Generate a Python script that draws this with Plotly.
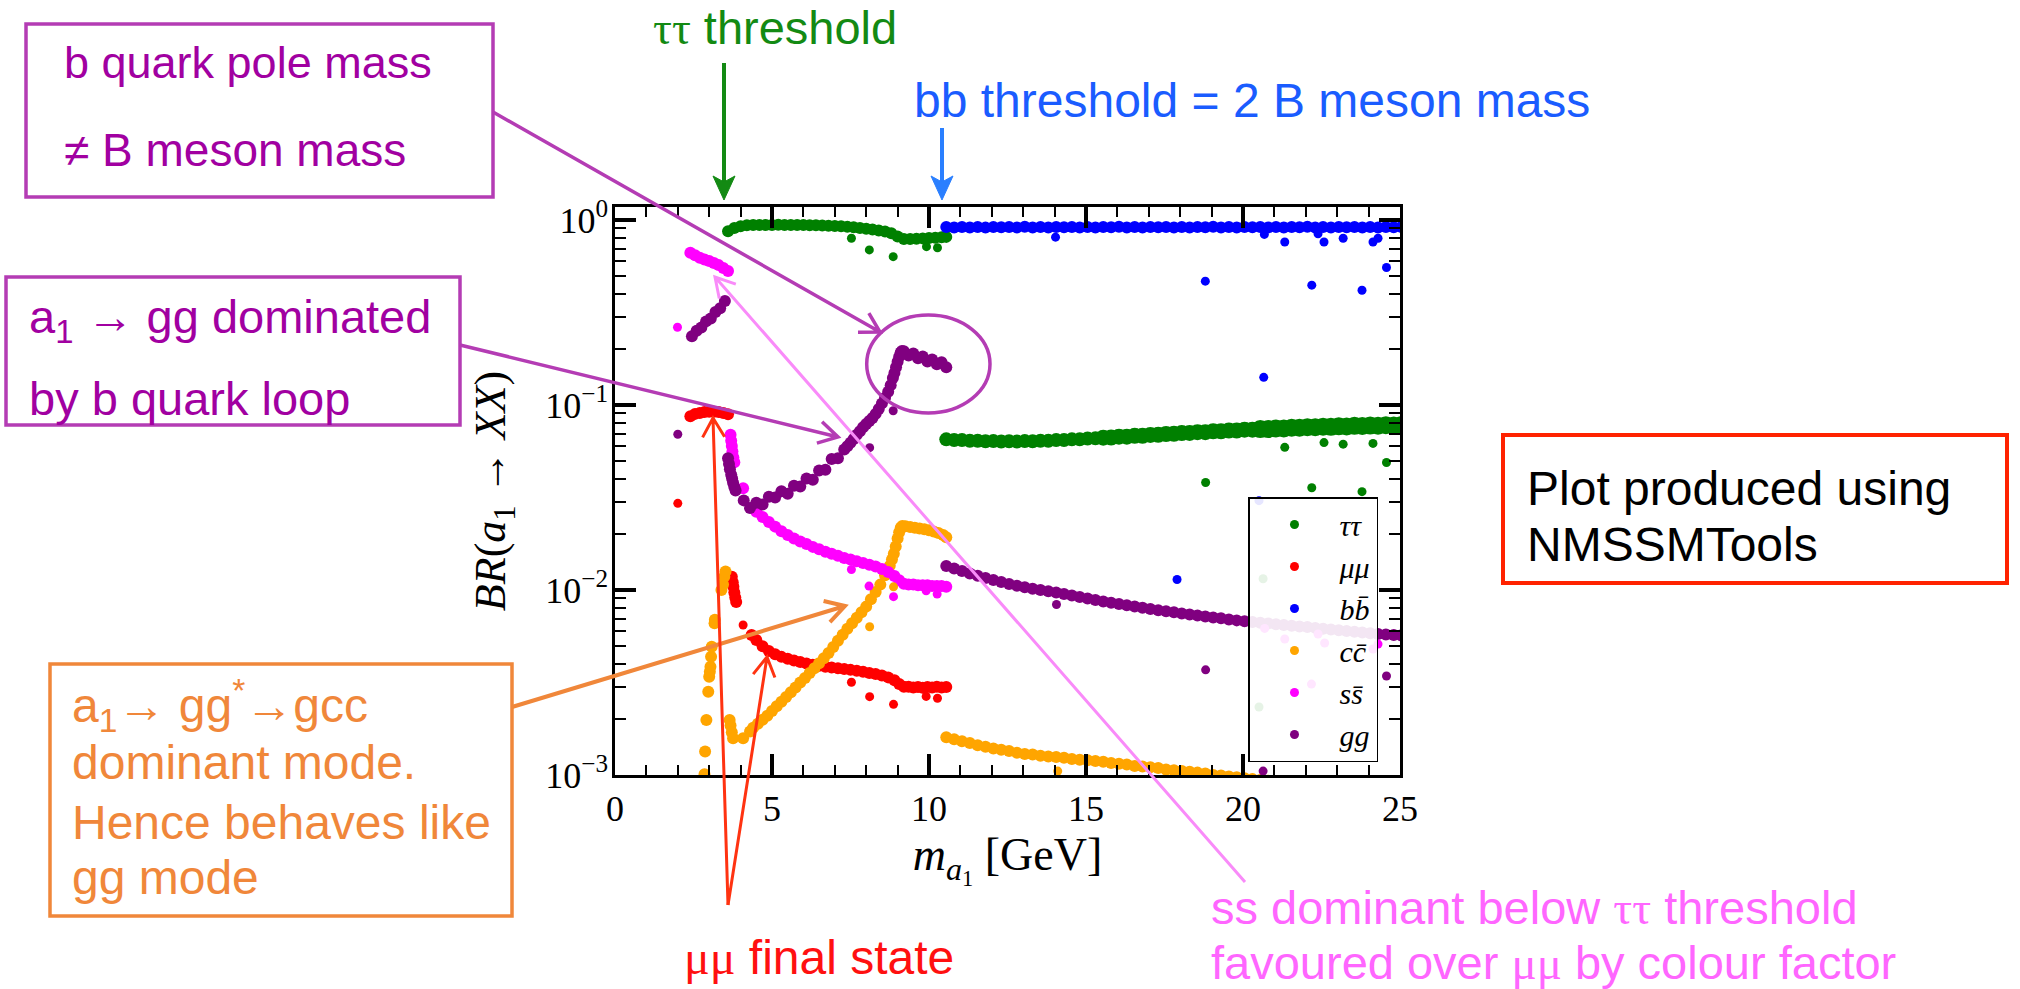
import math
import plotly.graph_objects as go

# ------------------------------------------------------------------
# NMSSM: branching ratios of the light pseudoscalar a1 versus its mass
# ------------------------------------------------------------------

# Scan points above the bb threshold (one mass list shared by the channels)
MA_HIGH = [10.55, 10.8, 11.05, 11.3, 11.55, 11.8, 12.05, 12.3, 12.55, 12.8,
           13.05, 13.3, 13.55, 13.8, 14.05, 14.3, 14.55, 14.8, 15.05, 15.3,
           15.55, 15.8, 16.05, 16.3, 16.55, 16.8, 17.05, 17.3, 17.55, 17.8,
           18.05, 18.3, 18.55, 18.8, 19.05, 19.3, 19.55, 19.8, 20.05, 20.3,
           20.55, 20.8, 21.05, 21.3, 21.55, 21.8, 22.05, 22.3, 22.55, 22.8,
           23.05, 23.3, 23.55, 23.8, 24.05, 24.3, 24.55, 24.8, 25.05]
BR_TAUTAU_HIGH = [.0652, .0647, .0646, .0641, .0641, .0637, .0638, .0635, .0637, .0634,
                  .0638, .0636, .0641, .0640, .0646, .0646, .0652, .0652, .0659, .0660,
                  .0666, .0667, .0674, .0674, .0681, .0682, .0689, .0690, .0697, .0698,
                  .0705, .0706, .0713, .0713, .0721, .0721, .0728, .0728, .0735, .0735,
                  .0741, .0741, .0747, .0747, .0753, .0753, .0758, .0758, .0763, .0762,
                  .0767, .0766, .0771, .0770, .0774, .0773, .0777, .0775, .0779]
BR_BB_HIGH = [.916, .910, .917, .911, .915, .909, .917, .912, .916, .910,
              .918, .911, .916, .910, .917, .912, .915, .910, .917, .911,
              .916, .912, .918, .910, .916, .911, .917, .912, .915, .910,
              .917, .911, .916, .912, .918, .910, .916, .911, .917, .912,
              .915, .910, .917, .911, .916, .912, .918, .910, .916, .911,
              .917, .912, .915, .910, .917, .911, .916, .912, .917]
BR_GG_HIGH = [.01349, .01306, .01265, .01227, .01194, .01161, .01132, .01104, .01076, .01054,
              .01035, .01016, .01000, .00984, .00968, .00951, .00933, .00916, .00899, .00883,
              .00867, .00853, .00839, .00828, .00815, .00802, .00789, .00778, .00767, .00757,
              .00746, .00738, .00728, .00719, .00711, .00703, .00693, .00685, .00678, .00671,
              .00665, .00659, .00653, .00647, .00641, .00635, .00630, .00624, .00618, .00612,
              .00605, .00600, .00594, .00589, .00583, .00579, .00575, .00571, .00568]
BR_CC_HIGH = [.00160, .00156, .00152, .00149, .00145, .00142, .00139, .00137, .00135, .00132,
              .00130, .00129, .00127, .00126, .00125, .00124, .00122, .00121, .00120, .00119,
              .00118, .00116, .00115, .00114, .00112, .00111, .00110, .00109, .00107, .00106,
              .00105, .00104, .00103, .00102, .00100, .000993, .000982, .000971, .000961, .000950,
              .000940, .000930, .000920, .000910, .000900, .000890, .000880, .000870, .000860, .000860,
              .000850, .000840, .000840, .000830, .000820, .000820, .000810, .000810, .000800]

# Scan points below the bb threshold, per channel
MA_TAUTAU_LOW = [3.6, 3.8, 4.0, 4.2, 4.4, 4.6, 4.8, 5.0, 5.2, 5.4,
                 5.6, 5.8, 6.0, 6.2, 6.4, 6.6, 6.8, 7.0, 7.2, 7.4,
                 7.6, 7.8, 8.0, 8.2, 8.4, 8.6, 8.8, 9.0, 9.2, 9.4,
                 9.6, 9.8, 10.0, 10.2, 10.4, 10.55]
BR_TAUTAU_LOW = [.870, .905, .925, .935, .938, .940, .940, .940, .941, .940,
                 .940, .939, .938, .937, .936, .934, .931, .928, .924, .919,
                 .912, .905, .897, .888, .878, .865, .848, .815, .790, .790,
                 .792, .795, .798, .802, .806, .810]

MA_MUMU_LOW = [2.4, 2.55, 2.7, 2.85, 3.0, 3.15, 3.3, 3.45, 3.6,
               3.72, 3.75, 3.77, 3.80, 3.83, 3.86,
               4.35, 4.5, 4.7, 4.9, 5.1, 5.3, 5.5, 5.7, 5.9, 6.1,
               6.3, 6.5, 6.7, 6.9, 7.1, 7.3, 7.5, 7.7, 7.9, 8.1,
               8.3, 8.5, 8.7, 8.9, 9.05, 9.2, 9.35, 9.5, 9.65, 9.8,
               9.95, 10.1, 10.25, 10.4, 10.55]
BR_MUMU_LOW = [.0870, .0895, .0905, .0915, .0920, .0920, .0915, .0905, .0890,
               .0118, .0110, .0104, .0097, .0091, .0086,
               .00571, .00537, .00497, .00468, .00449, .00435, .00425, .00416, .00408, .00400,
               .00394, .00389, .00385, .00381, .00378, .00374, .00370, .00366, .00361, .00356,
               .00351, .00345, .00337, .00325, .00310, .00300, .00300, .00297, .00299, .00296,
               .00299, .00297, .00300, .00297, .00299]

MA_CC_LOW = [2.85, 2.87, 2.91, 2.97, 3.00, 3.02, 3.04, 3.06, 3.08, 3.17, 3.18,
             3.39, 3.44, 3.48, 3.52,
             3.65, 3.68, 3.72, 3.76, 4.08, 4.3,
             4.4, 4.55, 4.7, 4.85, 5.0, 5.15, 5.3, 5.45, 5.6, 5.75,
             5.9, 6.05, 6.2, 6.35, 6.5, 6.65, 6.8, 6.95, 7.1, 7.25,
             7.4, 7.55, 7.7, 7.85, 8.0, 8.15, 8.3, 8.45, 8.6,
             8.68, 8.75, 8.82, 8.88, 8.94, 9.0, 9.05, 9.1, 9.15,
             9.25, 9.4, 9.55, 9.7, 9.85, 10.0, 10.15, 10.3, 10.45, 10.55]
BR_CC_LOW = [.00101, .00134, .00198, .00282, .00340, .00362, .00385, .00436, .00494, .0066, .0069,
             .0100, .0107, .0118, .0126,
             .00198, .00185, .00170, .00158, .00158, .00172,
             .00180, .00189, .00199, .00209, .00222, .00235, .00249, .00264, .00280, .00297,
             .00316, .00334, .00356, .00378, .00402, .00428, .00457, .00492, .00531, .00573,
             .00617, .00661, .00708, .00759, .00813, .00891, .00975, .01069, .01200,
             .0126, .0135, .0146, .0157, .0172, .0190, .0205, .0217, .0222,
             .0221, .0219, .0217, .0215, .0213, .0210, .0207, .0203, .0198, .0193]

MA_SS_LOW = [2.4, 2.55, 2.7, 2.85, 3.0, 3.15, 3.3, 3.45, 3.6,
             3.68, 3.70, 3.72, 3.74, 3.77, 3.80, 4.08,
             4.5, 4.7, 4.9, 5.1, 5.3, 5.5, 5.7, 5.9, 6.1, 6.3,
             6.5, 6.7, 6.9, 7.1, 7.3, 7.5, 7.7, 7.9, 8.1, 8.3,
             8.5, 8.7, 8.9, 9.05, 9.2, 9.35, 9.5, 9.65, 9.8, 9.95,
             10.1, 10.25, 10.4, 10.55]
BR_SS_LOW = [.665, .645, .625, .612, .600, .585, .570, .550, .530,
             .069, .064, .060, .056, .052, .049, .0355,
             .0265, .0248, .0233, .0220, .0208, .0198, .0190, .0183, .0177, .0171,
             .0166, .0161, .0157, .0153, .0149, .0146, .0143, .0140, .0137, .0134,
             .0130, .0125, .0119, .0113, .0108, .0107, .0107, .0106, .0106, .0106,
             .0105, .0105, .0105, .0104]

MA_GG_LOW = [2.45, 2.6, 2.75, 2.9, 3.05, 3.2, 3.35, 3.5,
             3.6, 3.63, 3.66, 3.7, 3.73, 3.76, 3.8, 3.84,
             4.1, 4.3, 4.5, 4.7, 4.9, 5.1, 5.3, 5.5, 5.7, 5.9,
             6.1, 6.3, 6.5, 6.7, 6.9, 7.1,
             7.3, 7.4, 7.5, 7.6, 7.7, 7.8, 7.9, 8.0, 8.1, 8.2,
             8.3, 8.4, 8.5, 8.6, 8.7,
             8.78, 8.85, 8.9, 8.95, 9.0, 9.05, 9.1, 9.14,
             9.2, 9.35, 9.5, 9.65, 9.8, 9.95, 10.1, 10.25, 10.4, 10.55]
BR_GG_LOW = [.235, .252, .262, .283, .293, .318, .333, .365,
             .0515, .048, .045, .042, .040, .038, .036, .0345,
             .0305, .0277, .0296, .0290, .0319, .0316, .0342, .0331, .0366, .0362,
             .0400, .0394, .0443, .0447, .0510, .0515,
             .0575, .0598, .0625, .0655, .0690, .0722, .0758, .0790, .0818, .0850,
             .0895, .0950, .1020, .1095, .1180,
             .128, .140, .149, .160, .171, .182, .192, .196,
             .195, .185, .190, .179, .183, .172, .176, .166, .170, .160]

# Isolated scan points away from the main bands
MA_TAUTAU_OFF = [7.53, 8.1, 8.86, 9.92, 10.27, 18.81, 20.51, 20.64, 21.33, 22.19,
                 22.58, 23.19, 23.79, 24.14, 24.57]
BR_TAUTAU_OFF = [.796, .689, .633, .717, .708, .0381, .00233, .0115, .059, .0357,
                 .0626, .0614, .034, .062, .0489]
MA_MUMU_OFF = [2.0, 4.08, 7.53, 8.11, 8.87, 9.91, 10.27]
BR_MUMU_OFF = [.0294, .00647, .00317, .00265, .00241, .00266, .0026]
MA_BB_OFF = [14.03, 17.9, 18.8, 20.51, 20.66, 20.68, 21.33, 22.19, 22.39, 22.58,
             23.19, 23.79, 24.14, 24.3, 24.57]
BR_BB_OFF = [.807, .0114, .467, .0304, .141, .835, .76, .444, .842, .76,
             .796, .417, .76, .796, .553]
MA_CC_OFF = [8.11, 8.87, 14.1]
BR_CC_OFF = [.00633, .0104, .00105]
MA_SS_OFF = [1.99, 7.53, 8.09, 8.87, 9.91, 10.26, 20.69, 21.33, 22.18, 22.39, 22.6, 24.14, 24.3]
BR_SS_OFF = [.263, .0129, .0105, .0092, .0099, .0095, .0062, .00543, .0031, .00578, .00517, .0048, .0051]
MA_GG_OFF = [2.0, 8.11, 8.86, 14.06, 18.81, 20.64, 24.57]
BR_GG_OFF = [.0695, .0588, .093, .00835, .0037, .00105, .00343]

# Axis ticks
X_TICK_VALS = [0, 5, 10, 15, 20, 25]
Y_TICK_VALS = [0.001, 0.01, 0.1, 1]
Y_TICK_TEXT = ["10<sup>\u22123</sup>", "10<sup>\u22122</sup>", "10<sup>\u22121</sup>", "10<sup>0</sup>"]
Y_MINOR_VALS = [m * 10.0 ** e for e in (-3, -2, -1) for m in range(2, 10)]

SERIF = "Liberation Serif"
SANS = "Liberation Sans"

# ------------------------------------------------------------------
fig = go.Figure()

# the tau band above the bb threshold widens with mass: drawn in three pieces
BANDS = [
    ("green", MA_TAUTAU_LOW, BR_TAUTAU_LOW, 12),
    ("green", MA_HIGH[:21], BR_TAUTAU_HIGH[:21], 14),
    ("green", MA_HIGH[20:41], BR_TAUTAU_HIGH[20:41], 16),
    ("green", MA_HIGH[40:], BR_TAUTAU_HIGH[40:], 18),
    ("red", MA_MUMU_LOW, BR_MUMU_LOW, 12),
    ("blue", MA_HIGH, BR_BB_HIGH, 12),
    ("orange", MA_CC_LOW + MA_HIGH, BR_CC_LOW + BR_CC_HIGH, 12),
    ("magenta", MA_SS_LOW, BR_SS_LOW, 12),
    ("purple", MA_GG_LOW + MA_HIGH, BR_GG_LOW + BR_GG_HIGH, 12),
]
GROUP = {"green": "tt", "red": "mm", "blue": "bb", "orange": "cc", "magenta": "ss", "purple": "gg"}
for color, xs, ys, size in BANDS:
    fig.add_trace(go.Scatter(x=xs, y=ys, mode="markers", showlegend=False,
                             legendgroup=GROUP[color],
                             marker=dict(color=color, size=size, line=dict(width=0))))

BAR = "\u0304"  # combining macron for the antiparticle bar
SCATTER = [
    ("<i>\u03c4\u03c4</i>", "green", MA_TAUTAU_OFF, BR_TAUTAU_OFF),
    ("<i>\u03bc\u03bc</i>", "red", MA_MUMU_OFF, BR_MUMU_OFF),
    ("<i>bb" + BAR + "</i>", "blue", MA_BB_OFF, BR_BB_OFF),
    ("<i>cc" + BAR + "</i>", "orange", MA_CC_OFF, BR_CC_OFF),
    ("<i>ss" + BAR + "</i>", "magenta", MA_SS_OFF, BR_SS_OFF),
    ("<i>gg</i>", "purple", MA_GG_OFF, BR_GG_OFF),
]
for name, color, xs, ys in SCATTER:
    fig.add_trace(go.Scatter(x=xs, y=ys, mode="markers", name=name,
                             legendgroup=GROUP[color],
                             marker=dict(color=color, size=9, line=dict(width=0))))

# ------------------------------------------------------------------
W, H = 2020, 989
L, R, T, B = 615, 1400, 207, 775
PW, PH = R - L, B - T


def px(x):
    return (x - L) / PW


def py(y):
    return (B - y) / PH


axis_common = dict(
    showline=True, linecolor="black", linewidth=2.5, mirror="ticks",
    ticks="inside", ticklen=21, tickwidth=4, tickcolor="black",
    showgrid=False, zeroline=False,
    tickfont=dict(family=SERIF, size=36, color="black"),
)

fig.update_layout(
    width=W, height=H, autosize=False,
    margin=dict(l=L, r=W - R, t=T, b=H - B, autoexpand=False),
    paper_bgcolor="white", plot_bgcolor="white",
    xaxis=dict(range=[0, 25], tickvals=X_TICK_VALS, ticklabelstandoff=0,
               minor=dict(dtick=1, ticks="inside", ticklen=10, tickwidth=2, tickcolor="black", showgrid=False),
               title=dict(text="<i>m</i><sub><i>a</i><sub>1</sub></sub> [GeV]",
                          font=dict(family=SERIF, size=46, color="black"), standoff=9),
               **axis_common),
    yaxis=dict(type="log", range=[-3, 0.07], tickvals=Y_TICK_VALS, ticktext=Y_TICK_TEXT,
               ticklabelstandoff=-3,
               minor=dict(tickvals=Y_MINOR_VALS, ticks="inside", ticklen=11, tickwidth=2, tickcolor="black", showgrid=False),
               title=dict(text="<i>BR</i>(<i>a</i><sub>1</sub> \u2192 <i>XX</i>)",
                          font=dict(family=SERIF, size=44, color="black"), standoff=26),
               **axis_common),
    legend=dict(x=px(1248), y=py(497), xanchor="left", yanchor="top",
                bgcolor="rgba(255,255,255,0.9)", bordercolor="black", borderwidth=1.5,
                font=dict(family=SERIF, size=30, color="black"),
                itemwidth=80, traceorder="normal", tracegroupgap=0),
)

# ------------------------------------------------------------------
# Callouts
PURPLE_TXT, PURPLE_LN = "#A100A1", "#B43CB4"
ORANGE = "#F0873A"
GREEN_TXT = "#138A13"
BLUE_TXT, BLUE_LN = "#1A5CFF", "#2A7FFF"
RED_TXT, RED_LN = "#FF1010", "#FF3311"
PINK_TXT, PINK_LN = "#FF66FF", "#F98BF9"
TAU = "<span style='font-family:Liberation Serif'>\u03c4\u03c4</span>"
MU = "<span style='font-family:Liberation Serif'>\u03bc\u03bc</span>"


def label(text, x, y, color, size=48):
    fig.add_annotation(text=text, x=px(x), y=py(y), xref="paper", yref="paper",
                       xanchor="left", yanchor="middle", showarrow=False,
                       font=dict(family=SANS, size=size, color=color))


def box(x0, y0, x1, y1, color, width=3.5):
    fig.add_shape(type="rect", xref="paper", yref="paper",
                  x0=px(x0), x1=px(x1), y0=py(y1), y1=py(y0),
                  line=dict(color=color, width=width), fillcolor="rgba(0,0,0,0)", layer="above")


def pt(x, y):
    return f"{px(x):.5f},{py(y):.5f}"


def open_arrow(x0, y0, x1, y1, color, width=3.5, arm=22, half=30):
    back = math.atan2(y0 - y1, x0 - x1)
    a = math.radians(half)
    e1 = (x1 + arm * math.cos(back + a), y1 + arm * math.sin(back + a))
    e2 = (x1 + arm * math.cos(back - a), y1 + arm * math.sin(back - a))
    path = (f"M{pt(x0, y0)} L{pt(x1, y1)} M{pt(*e1)} L{pt(x1, y1)} L{pt(*e2)}")
    fig.add_shape(type="path", path=path, xref="paper", yref="paper",
                  line=dict(color=color, width=width), layer="above")


def down_arrow(x, y0, y1, color, width=4, head_len=24, head_w=22):
    fig.add_shape(type="path", path=f"M{pt(x, y0)} L{pt(x, y1 - head_len + 6)}",
                  xref="paper", yref="paper", line=dict(color=color, width=width), layer="above")
    head = (f"M{pt(x - head_w / 2, y1 - head_len)} L{pt(x, y1)} "
            f"L{pt(x + head_w / 2, y1 - head_len)} L{pt(x, y1 - head_len + 6)} Z")
    fig.add_shape(type="path", path=head, xref="paper", yref="paper",
                  line=dict(color=color, width=1), fillcolor=color, layer="above")


# b quark pole mass
box(26, 24, 493, 197, PURPLE_LN)
label("b quark pole mass", 62, 62, PURPLE_TXT, size=45)
label("\u2260 B meson mass", 62, 150, PURPLE_TXT, size=46)
open_arrow(493, 112, 880, 332, PURPLE_LN)
fig.add_shape(type="circle", xref="paper", yref="paper",
              x0=px(866.7), x1=px(990), y0=py(413), y1=py(315),
              line=dict(color=PURPLE_LN, width=3.5), layer="above")

# gg via b loop
box(6, 277, 460, 425, PURPLE_LN)
label("a<sub>1</sub> \u2192 gg dominated", 27, 320, PURPLE_TXT, size=47)
label("by b quark loop", 27, 398, PURPLE_TXT, size=47)
open_arrow(460, 345, 838, 437, PURPLE_LN)

# cc via off-shell gluon
box(50, 664, 512, 916, ORANGE)
label("a<sub>1</sub>\u2192 gg<sup>*</sup>\u2192gcc", 70, 705, ORANGE)
label("dominant mode.", 70, 762, ORANGE)
label("Hence behaves like", 70, 822, ORANGE)
label("gg mode", 70, 877, ORANGE)
open_arrow(512, 707, 845, 606, ORANGE, width=4)

# program used
box(1503, 435, 2007, 583, "#FF2200", width=4)
label("Plot produced using", 1525, 488, "black", size=48)
label("NMSSMTools", 1525, 544, "black", size=48)

# thresholds
label(TAU + " threshold", 651, 27, GREEN_TXT, size=47)
down_arrow(724, 63, 200, GREEN_TXT)
label("bb threshold = 2 B meson mass", 912, 101, BLUE_TXT, size=48)
down_arrow(942, 128, 200, BLUE_LN)

# mumu final state
label(MU + " final state", 682, 957, RED_TXT)
open_arrow(728, 905, 713, 418, RED_LN, width=3)
open_arrow(728, 905, 767, 657, RED_LN, width=3)

# ss dominance
label("ss dominant below " + TAU + " threshold", 1209, 907, PINK_TXT, size=47)
label("favoured over " + MU + " by colour factor", 1209, 962, PINK_TXT, size=47)
open_arrow(1245, 882, 715, 277, PINK_LN, width=3)

fig.write_html("out.html")
